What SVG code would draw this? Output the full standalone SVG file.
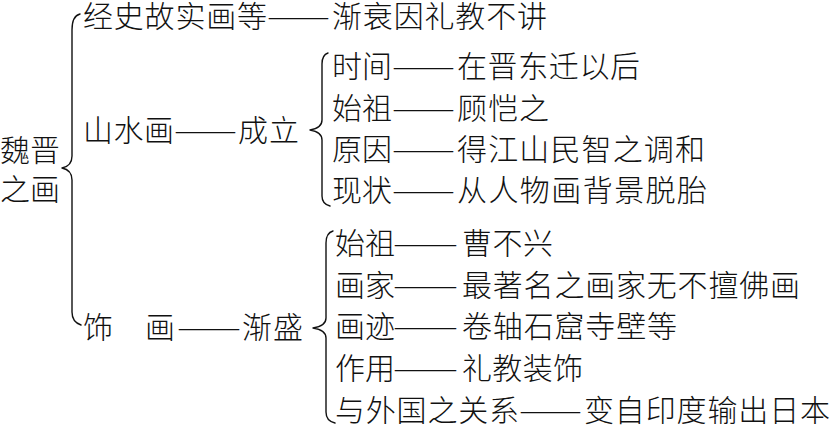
<svg xmlns="http://www.w3.org/2000/svg" width="831" height="426" viewBox="0 0 831 426">
<style>
text{font-family:"Noto Sans CJK SC","Noto Sans CJK TC",sans-serif;font-size:30px;font-weight:300;fill:#111}
.br{fill:none;stroke:#111;stroke-width:1.4;stroke-linecap:round;stroke-linejoin:round}
</style>
<rect width="831" height="426" fill="#fff"/>
<g id="connectors">
<path class="br" d="M80 14 Q72 16 72 30 L72 156 Q72 166 62 168 Q72 170 72 180 L72 312 Q72 322 81 325"/>
<path class="br" d="M328 53 Q322 55 322 64 L322 120 Q322 128 310 130 Q322 132 322 140 L322 196 Q322 204 330 206"/>
<path class="br" d="M333 231 Q326 233 326 243 L326 318 Q326 326 313 328 Q326 330 326 338 L326 412 Q326 421 335 423"/>
<text x="267" y="27" textLength="63" lengthAdjust="spacingAndGlyphs">——</text>
<text x="174" y="141" textLength="63" lengthAdjust="spacingAndGlyphs">——</text>
<text x="392" y="77" textLength="63" lengthAdjust="spacingAndGlyphs">——</text>
<text x="392" y="119" textLength="63" lengthAdjust="spacingAndGlyphs">——</text>
<text x="392" y="160" textLength="63" lengthAdjust="spacingAndGlyphs">——</text>
<text x="392" y="201" textLength="63" lengthAdjust="spacingAndGlyphs">——</text>
<text x="177" y="338" textLength="64" lengthAdjust="spacingAndGlyphs">——</text>
<text x="393" y="254" textLength="65" lengthAdjust="spacingAndGlyphs">——</text>
<text x="393" y="296" textLength="65" lengthAdjust="spacingAndGlyphs">——</text>
<text x="393" y="337" textLength="65" lengthAdjust="spacingAndGlyphs">——</text>
<text x="393" y="379" textLength="65" lengthAdjust="spacingAndGlyphs">——</text>
<text x="519" y="421" textLength="63" lengthAdjust="spacingAndGlyphs">——</text>
</g>
<g id="root"><text x="0" y="161" textLength="60">魏晋</text><text x="0" y="200" textLength="60">之画</text></g>
<g id="n-jingshi"><text x="83" y="27" textLength="184">经史故实画等</text></g>
<g id="n-jianshuai"><text x="332" y="27" textLength="215">渐衰因礼教不讲</text></g>
<g id="n-shanshui"><text x="83" y="141" textLength="91">山水画</text></g>
<g id="n-chengli"><text x="238" y="141" textLength="61">成立</text></g>
<g id="n-shijian"><text x="332" y="77" textLength="60">时间</text><text x="457" y="77" textLength="183">在晋东迁以后</text></g>
<g id="n-shizu1"><text x="332" y="119" textLength="60">始祖</text><text x="457" y="119" textLength="92">顾恺之</text></g>
<g id="n-yuanyin"><text x="332" y="160" textLength="60">原因</text><text x="457" y="160" textLength="248">得江山民智之调和</text></g>
<g id="n-xianzhuang"><text x="332" y="201" textLength="60">现状</text><text x="457" y="201" textLength="250">从人物画背景脱胎</text></g>
<g id="n-shihua"><text x="83" y="338" textLength="92">饰　画</text></g>
<g id="n-jiansheng"><text x="242" y="338" textLength="61">渐盛</text></g>
<g id="n-shizu2"><text x="335" y="254" textLength="60">始祖</text><text x="462" y="254" textLength="91">曹不兴</text></g>
<g id="n-huajia"><text x="335" y="296" textLength="60">画家</text><text x="462" y="296" textLength="338">最著名之画家无不擅佛画</text></g>
<g id="n-huaji"><text x="335" y="337" textLength="60">画迹</text><text x="462" y="337" textLength="215">卷轴石窟寺壁等</text></g>
<g id="n-zuoyong"><text x="335" y="379" textLength="60">作用</text><text x="462" y="379" textLength="121">礼教装饰</text></g>
<g id="n-waiguo"><text x="335" y="421" textLength="184">与外国之关系</text><text x="584" y="421" textLength="246">变自印度输出日本</text></g>
</svg>
